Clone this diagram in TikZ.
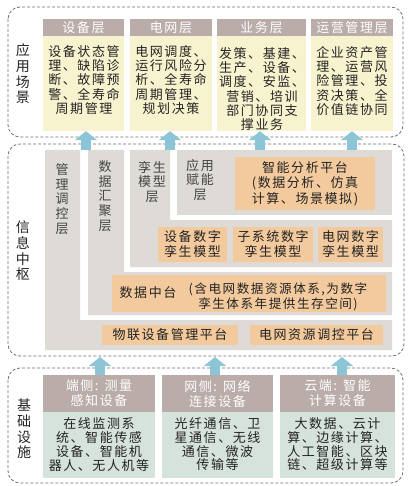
\documentclass[tikz,border=0pt]{standalone}
\usepackage{fontspec}
\newfontfamily\cjk[LetterSpace=12]{Noto Sans CJK SC}
\usetikzlibrary{arrows.meta}
\definecolor{hdr}{RGB}{186,172,168}
\definecolor{tbody}{RGB}{248,243,207}
\definecolor{bbody}{RGB}{214,226,220}
\definecolor{layer}{RGB}{222,219,214}
\definecolor{orng}{RGB}{243,202,157}
\definecolor{arrw}{RGB}{140,198,214}
\definecolor{txt}{RGB}{35,35,35}
\definecolor{dashc}{RGB}{110,110,110}
\tikzset{
  grp/.style={draw=dashc, line width=0.8pt, dash pattern=on 3pt off 2pt, rounded corners=12pt},
  hdrbox/.style={fill=hdr, text=white, inner sep=0pt, align=center, font=\cjk\fontsize{13}{15}\selectfont},
  tbox/.style={fill=tbody, inner sep=0pt},
  bbox/.style={fill=bbody, inner sep=0pt},
  obox/.style={fill=orng, inner sep=0pt, text=txt, align=center, font=\cjk\fontsize{13}{15.5}\selectfont},
  bodytxt/.style={inner sep=0pt, text=txt, align=center, font=\cjk\fontsize{13}{14.2}\selectfont},
  layertxt/.style={inner sep=0pt, text=txt!85, align=center, font=\cjk\fontsize{13}{14.7}\selectfont},
  glabel/.style={inner sep=0pt, text=txt, align=center, font=\cjk\fontsize{14}{15.7}\selectfont},
  upar/.style={draw=arrw, line width=10pt, -{Triangle[width=22pt,length=9pt]}},
}
\begin{document}
\begin{tikzpicture}[x=1pt,y=-1pt]
\useasboundingbox (0,0) rectangle (409,486);
% groups
\draw[grp] (8,7) rectangle (403,137);
\draw[grp] (8,144) rectangle (404,356);
\draw[grp] (8,368) rectangle (403,483);
\node[glabel] (g1) at (23,74) {应\\用\\场\\景};
\node[glabel] (g2) at (23,251) {信\\息\\中\\枢};
\node[glabel] (g3) at (24,429) {基\\础\\设\\施};
% top boxes
\node[hdrbox, minimum width=81pt, minimum height=17pt] (h1) at (83.5,27.5) {设备层};
\node[hdrbox, minimum width=82pt, minimum height=17pt] (h2) at (171,27.5) {电网层};
\node[hdrbox, minimum width=89pt, minimum height=17pt] (h3) at (261.5,27.5) {业务层};
\node[hdrbox, minimum width=82pt, minimum height=17pt] (h4) at (352,27.5) {运营管理层};
\node[tbox, minimum width=81pt, minimum height=95pt] (t1) at (83.5,83.5) {};
\node[tbox, minimum width=82pt, minimum height=95pt] (t2) at (171,83.5) {};
\node[tbox, minimum width=89pt, minimum height=95pt] (t3) at (261.5,83.5) {};
\node[tbox, minimum width=82pt, minimum height=95pt] (t4) at (352,83.5) {};
\node[bodytxt] (tx1) at (84,80) {设备状态管\\理、缺陷诊\\断、故障预\\警、全寿命\\周期管理};
\node[bodytxt] (tx2) at (171,80) {电网调度、\\运行风险分\\析、全寿命\\周期管理、\\规划决策};
\node[bodytxt] (tx3) at (262,89) {发策、基建、\\生产、设备、\\调度、安监、\\营销、培训\\部门协同支\\撑业务};
\node[bodytxt] (tx4) at (352,81) {企业资产管\\理、运营风\\险管理、投\\资决策、全\\价值链协同};
% middle layers
\fill[layer] (45,150) -- (80,150) -- (80,320) -- (392,320) -- (392,350) -- (45,350) -- cycle;
\fill[layer] (88,150) -- (124,150) -- (124,272) -- (392,272) -- (392,315) -- (88,315) -- cycle;
\fill[layer] (130,150) -- (170,150) -- (170,220) -- (392,220) -- (392,267) -- (130,267) -- cycle;
\fill[layer] (177,150) rectangle (392,215);
\node[layertxt] (m1) at (62,199) {管\\理\\调\\控\\层};
\node[layertxt] (m2) at (105,196) {数\\据\\汇\\聚\\层};
\node[layertxt] (m3) at (152,182) {孪生\\模型\\层};
\node[layertxt] (m4) at (200,180) {应用\\赋能\\层};
\node[obox, minimum width=140pt, minimum height=53pt] (o1) at (305,183.5) {智能分析平台\\(数据分析、仿真\\计算、场景模拟)};
\node[obox, minimum width=69pt, minimum height=35pt, font=\cjk\fontsize{13}{15}\selectfont] (o2) at (192.5,244.5) {设备数字\\孪生模型};
\node[obox, minimum width=80pt, minimum height=35pt, font=\cjk\fontsize{13}{15}\selectfont] (o3) at (273,244.5) {子系统数字\\孪生模型};
\node[obox, minimum width=65pt, minimum height=35pt, font=\cjk\fontsize{13}{15}\selectfont] (o4) at (350.5,244.5) {电网数字\\孪生模型};
\node[obox, minimum width=274pt, minimum height=37pt] (o5) at (249,293.5) {};
\node[bodytxt] (o5a) at (148,293) {数据中台};
\node[bodytxt, font=\cjk\fontsize{12.6}{15}\selectfont] (o5b) at (278,296.5) {(含电网数据资源体系,为数字\\孪生体系年提供生存空间)};
\node[obox, minimum width=136pt, minimum height=20pt] (o6) at (170,335) {物联设备管理平台};
\node[obox, minimum width=133pt, minimum height=20pt] (o7) at (316.5,335) {电网资源调控平台};
% top arrows
\coordinate (s1) at (86,150);
\coordinate (s2) at (170,150);
\coordinate (s3) at (260,150);
\coordinate (s4) at (352,150);
\draw[upar] (s1) -- (s1 |- t1.south);
\draw[upar] (s2) -- (s2 |- t2.south);
\draw[upar] (s3) -- (s3 |- t3.south);
\draw[upar] (s4) -- (s4 |- t4.south);
% bottom boxes
\node[hdrbox, minimum width=112pt, minimum height=37pt] (bh1) at (99,393.5) {端侧: 测量\\感知设备};
\node[hdrbox, minimum width=111pt, minimum height=37pt] (bh2) at (217.5,393.5) {网侧: 网络\\连接设备};
\node[hdrbox, minimum width=115pt, minimum height=37pt] (bh3) at (337.5,393.5) {云端: 智能\\计算设备};
\node[bbox, minimum width=112pt, minimum height=66pt] (bb1) at (99,445) {};
\node[bbox, minimum width=111pt, minimum height=66pt] (bb2) at (217.5,445) {};
\node[bbox, minimum width=115pt, minimum height=66pt] (bb3) at (337.5,445) {};
\node[bodytxt, font=\cjk\fontsize{13}{13.7}\selectfont] (bt1) at (99,444.5) {在线监测系\\统、智能传感\\设备、智能机\\器人、无人机等};
\node[bodytxt, font=\cjk\fontsize{13}{13.7}\selectfont] (bt2) at (217.5,444.5) {光纤通信、卫\\星通信、无线\\通信、微波\\传输等};
\node[bodytxt, font=\cjk\fontsize{13}{13.7}\selectfont] (bt3) at (337.5,444.5) {大数据、云计\\算、边缘计算、\\人工智能、区块\\链、超级计算等};
% bottom arrows
\coordinate (u1) at (100,357);
\coordinate (u2) at (215,357);
\coordinate (u3) at (342,357);
\draw[upar] (u1 |- bh1.north) -- (u1);
\draw[upar] (u2 |- bh2.north) -- (u2);
\draw[upar] (u3 |- bh3.north) -- (u3);
\end{tikzpicture}
\end{document}
